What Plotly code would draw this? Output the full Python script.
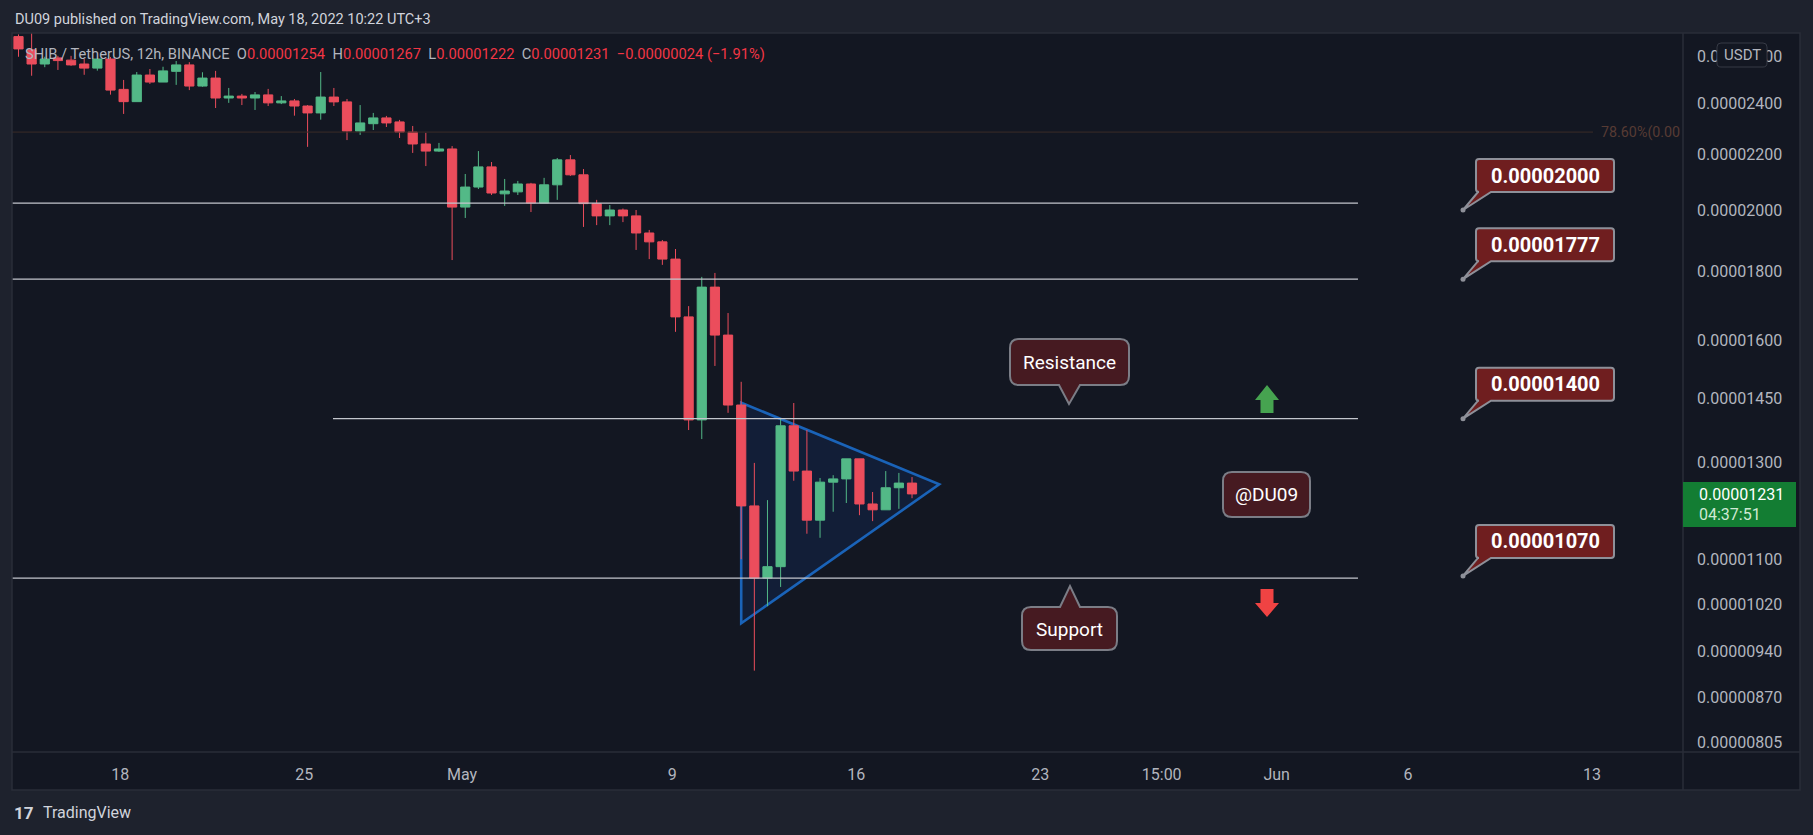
import math
import pandas as pd
import plotly.graph_objects as go

# ---------------- data (prices in units of 1e-5 USDT) ----------------
UNIT = 1e-5
dates = pd.date_range("2022-04-14 03:00", periods=69, freq="12h").strftime("%Y-%m-%d %H:%M").tolist()

open_ = [2.690, 2.630, 2.567, 2.594, 2.584, 2.567, 2.549, 2.589, 2.458, 2.407,
         2.519, 2.489, 2.535, 2.563, 2.472, 2.506, 2.422, 2.430, 2.422, 2.435,
         2.402, 2.410, 2.389, 2.361, 2.426, 2.406, 2.289, 2.318, 2.341, 2.325,
         2.285, 2.239, 2.212, 2.220, 2.010, 2.080, 2.153, 2.056, 2.063, 2.091,
         2.024, 2.088, 2.179, 2.124, 2.022, 1.980, 2.000, 1.980, 1.923, 1.894,
         1.839, 1.666, 1.397, 1.753, 1.615, 1.433, 1.206, 1.066, 1.087, 1.383,
         1.280, 1.177, 1.256, 1.263, 1.307, 1.210, 1.198, 1.244, 1.254]
high = [2.700, 2.720, 2.599, 2.603, 2.603, 2.589, 2.589, 2.598, 2.498, 2.532,
        2.545, 2.555, 2.580, 2.575, 2.531, 2.537, 2.464, 2.439, 2.447, 2.460,
        2.430, 2.418, 2.393, 2.532, 2.464, 2.418, 2.393, 2.361, 2.349, 2.333,
        2.309, 2.282, 2.243, 2.231, 2.127, 2.212, 2.171, 2.109, 2.102, 2.095,
        2.113, 2.186, 2.197, 2.145, 2.035, 2.017, 2.005, 2.000, 1.933, 1.900,
        1.871, 1.697, 1.784, 1.796, 1.677, 1.491, 1.298, 1.218, 1.399, 1.438,
        1.373, 1.265, 1.271, 1.307, 1.307, 1.235, 1.280, 1.276, 1.267]
low = [2.599, 2.516, 2.553, 2.541, 2.559, 2.520, 2.538, 2.436, 2.357, 2.407,
       2.481, 2.489, 2.477, 2.455, 2.469, 2.381, 2.402, 2.393, 2.373, 2.389,
       2.397, 2.350, 2.228, 2.334, 2.389, 2.254, 2.274, 2.293, 2.305, 2.262,
       2.205, 2.156, 2.209, 1.836, 1.973, 2.073, 2.052, 2.014, 2.052, 1.993,
       2.024, 2.035, 2.120, 1.943, 1.949, 1.949, 1.959, 1.868, 1.839, 1.821,
       1.624, 1.373, 1.352, 1.532, 1.414, 1.101, 0.910, 1.016, 1.050, 1.259,
       1.150, 1.142, 1.194, 1.212, 1.187, 1.175, 1.198, 1.200, 1.222]
close = [2.634, 2.567, 2.589, 2.582, 2.563, 2.549, 2.589, 2.455, 2.407, 2.519,
         2.489, 2.537, 2.563, 2.472, 2.506, 2.422, 2.430, 2.422, 2.435, 2.402,
         2.410, 2.389, 2.361, 2.426, 2.406, 2.289, 2.321, 2.341, 2.321, 2.285,
         2.239, 2.212, 2.220, 2.010, 2.080, 2.153, 2.059, 2.066, 2.091, 2.024,
         2.088, 2.179, 2.124, 2.022, 1.980, 2.000, 1.980, 1.923, 1.894, 1.839,
         1.666, 1.397, 1.753, 1.615, 1.433, 1.206, 1.066, 1.087, 1.383, 1.280,
         1.177, 1.256, 1.263, 1.307, 1.210, 1.198, 1.244, 1.254, 1.231]

# horizontal levels drawn on the chart
level_prices = [2.024, 1.777, 1.400, 1.066]
level_starts = ["2022-04-13 00:00", "2022-04-13 00:00", "2022-04-26 02:13", "2022-04-13 00:00"]
level_end = "2022-06-04 02:15"
fib_price = 2.285
fib_end = "2022-06-13 00:55"

# callout price labels
callout_values = [2.000, 1.777, 1.400, 1.070]
callout_labels = ["0.00002000", "0.00001777", "0.00001400", "0.00001070"]

# symmetrical triangle
tri_x = ["2022-05-11 15:00", "2022-05-11 15:00", "2022-05-19 03:50"]
tri_y = [1.4387, 0.9868, 1.2514]

# axis ticks
y_tick_vals = [2.60, 2.40, 2.20, 2.00, 1.80, 1.60, 1.45, 1.30, 1.10, 1.02, 0.94, 0.87, 0.805]
y_tick_text = ["0.00002600", "0.00002400", "0.00002200", "0.00002000", "0.00001800",
               "0.00001600", "0.00001450", "0.00001300", "0.00001100", "0.00001020",
               "0.00000940", "0.00000870", "0.00000805"]
x_tick_vals = ["2022-04-18", "2022-04-25", "2022-05-01", "2022-05-09", "2022-05-16",
               "2022-05-23", "2022-05-27 15:00", "2022-06-01", "2022-06-06", "2022-06-13"]
x_tick_text = ["18", "25", "May", "9", "16", "23", "15:00", "Jun", "6", "13"]

last_price_text = "0.00001231"
countdown_text = "04:37:51"

# ---------------- styling / layout helpers ----------------
W, H = 1813, 835
PL, PR, PT, PB = 12, 1683, 33, 752   # plot area in pixels
X_RANGE = ["2022-04-13 21:04", "2022-06-16 11:05"]
Y_LO, Y_HI = 0.79186e-5, 2.7067e-5
BG_OUT = "#1e222d"
BG = "#131722"
BORDER = "#2a2e39"
AXIS_TXT = "#b2b5be"
UP = "#53b987"
DOWN = "#eb4d5c"
FONT = "Roboto"

T0, T1 = pd.Timestamp(X_RANGE[0]), pd.Timestamp(X_RANGE[1])
LLO, LHI = math.log10(Y_LO), math.log10(Y_HI)


def px(x):
    return (x - PL) / (PR - PL)


def py(y):
    return (PB - y) / (PB - PT)


def data_to_paper(t, p):
    xp = (pd.Timestamp(t) - T0) / (T1 - T0)
    yp = (math.log10(p) - LLO) / (LHI - LLO)
    return xp, yp


def price_to_pixel_y(p):
    return PB - (math.log10(p) - LLO) / (LHI - LLO) * (PB - PT)


def f(v):
    return f"{v:.5f}"


def bubble_path(x0, y0, x1, y1, r, ptr=None):
    s = f"M{f(px(x0 + r))},{f(py(y0))} "
    if ptr and ptr[0] == "top":
        s += f"L{f(px(ptr[1]))},{f(py(y0))} L{f(px(ptr[3]))},{f(py(ptr[4]))} L{f(px(ptr[2]))},{f(py(y0))} "
    s += f"L{f(px(x1 - r))},{f(py(y0))} Q{f(px(x1))},{f(py(y0))} {f(px(x1))},{f(py(y0 + r))} "
    s += f"L{f(px(x1))},{f(py(y1 - r))} Q{f(px(x1))},{f(py(y1))} {f(px(x1 - r))},{f(py(y1))} "
    if ptr and ptr[0] == "bottom":
        s += f"L{f(px(ptr[2]))},{f(py(y1))} L{f(px(ptr[3]))},{f(py(ptr[4]))} L{f(px(ptr[1]))},{f(py(y1))} "
    s += f"L{f(px(x0 + r))},{f(py(y1))} Q{f(px(x0))},{f(py(y1))} {f(px(x0))},{f(py(y1 - r))} "
    s += f"L{f(px(x0))},{f(py(y0 + r))} Q{f(px(x0))},{f(py(y0))} {f(px(x0 + r))},{f(py(y0))} Z"
    return s


def poly_path(pts):
    return "M" + " L".join(f"{f(px(a))},{f(py(b))}" for a, b in pts) + " Z"


fig = go.Figure()

# fib line
fig.add_trace(go.Scatter(x=["2022-04-13 00:00", fib_end], y=[fib_price * UNIT] * 2, mode="lines",
                         line=dict(color="#3b2b28", width=1), hoverinfo="skip", showlegend=False))

# candles
fig.add_trace(go.Candlestick(
    x=dates,
    open=[v * UNIT for v in open_], high=[v * UNIT for v in high],
    low=[v * UNIT for v in low], close=[v * UNIT for v in close],
    increasing=dict(line=dict(color=UP, width=1), fillcolor=UP),
    decreasing=dict(line=dict(color=DOWN, width=1), fillcolor=DOWN),
    whiskerwidth=0, hoverinfo="skip", showlegend=False))

# horizontal levels
for p, s in zip(level_prices, level_starts):
    fig.add_trace(go.Scatter(x=[s, level_end], y=[p * UNIT] * 2, mode="lines",
                             line=dict(color="#c3c6cd", width=1.2), hoverinfo="skip", showlegend=False))

shapes = []
annotations = []

# chart frame background (whole chart block; plot bg is transparent so lower shapes show)
shapes.append(dict(type="rect", xref="paper", yref="paper", x0=px(12), x1=px(1800), y0=py(790), y1=py(33),
                   fillcolor=BG, line=dict(width=0), layer="below"))

# triangle pattern, below the candles
tri_pts = [data_to_paper(t, v * UNIT) for t, v in zip(tri_x, tri_y)]
tri_path = "M" + " L".join(f"{f(a)},{f(b)}" for a, b in tri_pts) + " Z"
shapes.append(dict(type="path", xref="paper", yref="paper", path=tri_path, layer="below",
                   fillcolor="#121e37", line=dict(color="#1a63b8", width=2.6)))

shapes.append(dict(type="rect", xref="paper", yref="paper", x0=px(12), x1=px(1800), y0=py(790), y1=py(33),
                   fillcolor="rgba(0,0,0,0)", line=dict(color=BORDER, width=1.5)))
shapes.append(dict(type="line", xref="paper", yref="paper", x0=px(1683), x1=px(1683), y0=py(790), y1=py(33),
                   line=dict(color=BORDER, width=1.5)))
shapes.append(dict(type="line", xref="paper", yref="paper", x0=px(12), x1=px(1800), y0=py(752), y1=py(752),
                   line=dict(color=BORDER, width=1.5)))

# speech bubbles
BUB_FILL = "#461a21"
BUB_LINE = "#7b7d86"
shapes.append(dict(type="path", xref="paper", yref="paper",
                   path=bubble_path(1010, 339, 1129, 385, 9, ("bottom", 1059, 1080, 1069, 404)),
                   fillcolor=BUB_FILL, line=dict(color=BUB_LINE, width=2)))
shapes.append(dict(type="path", xref="paper", yref="paper",
                   path=bubble_path(1022, 607, 1117, 650, 9, ("top", 1060, 1080, 1070, 586)),
                   fillcolor=BUB_FILL, line=dict(color=BUB_LINE, width=2)))
shapes.append(dict(type="path", xref="paper", yref="paper",
                   path=bubble_path(1223, 472, 1310, 517, 9),
                   fillcolor=BUB_FILL, line=dict(color=BUB_LINE, width=2)))
annotations.append(dict(xref="paper", yref="paper", x=px(1069.5), y=py(362), text="Resistance",
                        showarrow=False, font=dict(family=FONT, size=19, color="#ffffff"),
                        xanchor="center", yanchor="middle"))
annotations.append(dict(xref="paper", yref="paper", x=px(1069.5), y=py(629), text="Support",
                        showarrow=False, font=dict(family=FONT, size=19, color="#ffffff"),
                        xanchor="center", yanchor="middle"))
annotations.append(dict(xref="paper", yref="paper", x=px(1266.5), y=py(494.5), text="@DU09",
                        showarrow=False, font=dict(family=FONT, size=19, color="#ffffff"),
                        xanchor="center", yanchor="middle"))

# up / down arrows
shapes.append(dict(type="path", xref="paper", yref="paper",
                   path=poly_path([(1255, 400), (1267, 385), (1279, 400), (1273.5, 400), (1273.5, 413),
                                   (1260.5, 413), (1260.5, 400)]),
                   fillcolor="#46a350", line=dict(width=0)))
shapes.append(dict(type="path", xref="paper", yref="paper",
                   path=poly_path([(1260.5, 589), (1273.5, 589), (1273.5, 603), (1279, 603), (1267, 617),
                                   (1255, 603), (1260.5, 603)]),
                   fillcolor="#f04343", line=dict(width=0)))

# price callouts (tip points at the price level)
CALL_FILL = "#6f1e1f"
CALL_LINE = "#8e9099"
for val, lab in zip(callout_values, callout_labels):
    tip_y = price_to_pixel_y(val * UNIT)
    top = tip_y - 51
    bot = tip_y - 18
    shapes.append(dict(type="path", xref="paper", yref="paper",
                       path=bubble_path(1476, top, 1614, bot, 3, ("bottom", 1478, 1491, 1463, tip_y)),
                       fillcolor=CALL_FILL, line=dict(color=CALL_LINE, width=2)))
    shapes.append(dict(type="circle", xref="paper", yref="paper", x0=px(1460.5), x1=px(1465.5),
                       y0=py(tip_y + 2.5), y1=py(tip_y - 2.5), fillcolor=CALL_LINE, line=dict(width=0)))
    annotations.append(dict(xref="paper", yref="paper", x=px(1545), y=py((top + bot) / 2),
                            text=f"<b>{lab}</b>", showarrow=False,
                            font=dict(family=FONT, size=20, color="#ffffff"),
                            xanchor="center", yanchor="middle"))

# fib label (clipped look)
annotations.append(dict(xref="paper", yref="y", x=px(1599), y=math.log10(fib_price * UNIT),
                        text="78.60%(0.00", showarrow=False, font=dict(family=FONT, size=14.3, color="#573b34"),
                        xanchor="left", yanchor="middle"))

# current price label on price axis
shapes.append(dict(type="rect", xref="paper", yref="paper", x0=px(1683), x1=px(1796), y0=py(527), y1=py(482),
                   fillcolor="#137d33", line=dict(width=0)))
annotations.append(dict(xref="paper", yref="paper", x=px(1697), y=py(494), text=last_price_text,
                        showarrow=False, font=dict(family=FONT, size=16, color="#ffffff"),
                        xanchor="left", yanchor="middle"))
annotations.append(dict(xref="paper", yref="paper", x=px(1697), y=py(514), text=countdown_text,
                        showarrow=False, font=dict(family=FONT, size=16, color="#cfe9d4"),
                        xanchor="left", yanchor="middle"))

# USDT badge
shapes.append(dict(type="path", xref="paper", yref="paper", path=bubble_path(1717, 43, 1767, 67, 4),
                   fillcolor=BG, line=dict(color="#363a45", width=1)))
annotations.append(dict(xref="paper", yref="paper", x=px(1742), y=py(55), text="USDT", showarrow=False,
                        font=dict(family=FONT, size=15, color=AXIS_TXT), xanchor="center", yanchor="middle"))

# header / legend / logo
annotations.append(dict(xref="paper", yref="paper", x=px(13), y=py(20),
                        text="DU09 published on TradingView.com, May 18, 2022 10:22 UTC+3",
                        showarrow=False, font=dict(family=FONT, size=14.5, color="#d1d4dc"),
                        xanchor="left", yanchor="middle"))
G, Rd = AXIS_TXT, "#f23645"
sp = "\u00a0\u00a0"
legend_html = (f'<span style="color:{G}">SHIB / TetherUS, 12h, BINANCE{sp}O</span>'
               f'<span style="color:{Rd}">0.00001254</span>'
               f'<span style="color:{G}">{sp}H</span><span style="color:{Rd}">0.00001267</span>'
               f'<span style="color:{G}">{sp}L</span><span style="color:{Rd}">0.00001222</span>'
               f'<span style="color:{G}">{sp}C</span><span style="color:{Rd}">0.00001231</span>'
               f'<span style="color:{Rd}">{sp}\u22120.00000024 (\u22121.91%)</span>')
annotations.append(dict(xref="paper", yref="paper", x=px(23), y=py(54), text=legend_html,
                        showarrow=False, font=dict(family=FONT, size=14.7, color=G),
                        xanchor="left", yanchor="middle"))
annotations.append(dict(xref="paper", yref="paper", x=px(12), y=py(813), text="<b>17</b>",
                        showarrow=False, font=dict(family=FONT, size=17, color="#d1d4dc"),
                        xanchor="left", yanchor="middle"))
annotations.append(dict(xref="paper", yref="paper", x=px(41), y=py(813), text="TradingView",
                        showarrow=False, font=dict(family=FONT, size=16, color="#d1d4dc"),
                        xanchor="left", yanchor="middle"))

fig.update_layout(
    width=W, height=H,
    margin=dict(l=PL, r=W - PR, t=PT, b=H - PB, autoexpand=False),
    paper_bgcolor=BG_OUT, plot_bgcolor="rgba(0,0,0,0)",
    boxgap=0.3, boxgroupgap=0,
    shapes=shapes, annotations=annotations,
    xaxis=dict(type="date", range=X_RANGE,
               tickmode="array", tickvals=x_tick_vals, ticktext=x_tick_text,
               showgrid=False, zeroline=False, showline=False, ticks="",
               ticklabelstandoff=11, rangeslider=dict(visible=False),
               tickfont=dict(family=FONT, size=16, color=AXIS_TXT)),
    yaxis=dict(type="log", side="right",
               range=[LLO, LHI],
               tickmode="array", tickvals=[v * UNIT for v in y_tick_vals], ticktext=y_tick_text,
               showgrid=False, zeroline=False, showline=False, ticks="",
               ticklabelstandoff=13,
               tickfont=dict(family=FONT, size=16, color=AXIS_TXT)),
    showlegend=False,
)

fig.write_html("out.html")
